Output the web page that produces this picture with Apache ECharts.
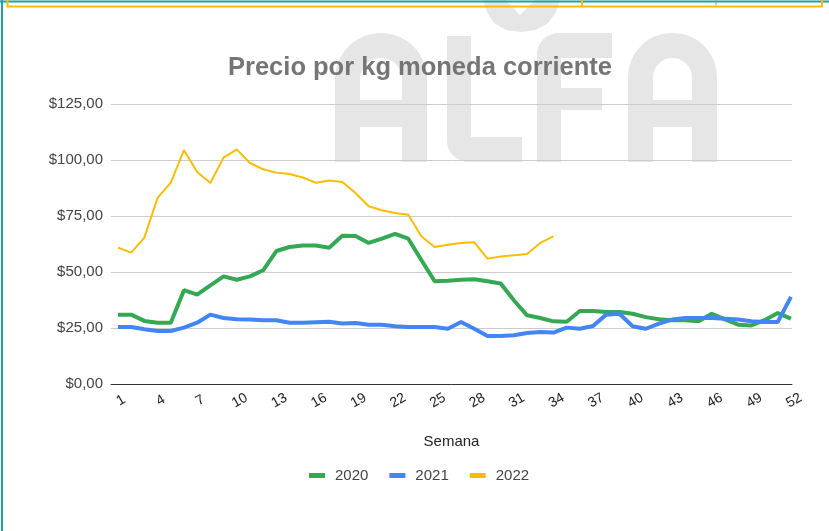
<!DOCTYPE html>
<html>
<head>
<meta charset="utf-8">
<script src="https://cdn.jsdelivr.net/npm/echarts@6/dist/echarts.min.js"></script>
<style>
  html, body { margin: 0; padding: 0; background: #fff; }
  #chart { width: 829px; height: 531px; }
</style>
</head>
<body>
<div id="chart"></div>
<script>
// ---- data ----
const weeks = [1,2,3,4,5,6,7,8,9,10,11,12,13,14,15,16,17,18,19,20,21,22,23,24,25,26,
               27,28,29,30,31,32,33,34,35,36,37,38,39,40,41,42,43,44,45,46,47,48,49,50,51,52];
const seriesNames = ['2020', '2021', '2022'];
const values2020 = [31.1,31.1,28.3,27.5,27.5,42.0,40.0,44.2,48.2,46.7,48.2,50.9,59.5,61.3,62.0,62.0,61.0,66.3,66.2,63.1,65.0,67.2,65.0,55.4,46.0,46.2,
                    46.7,46.9,46.0,45.0,37.5,30.8,29.6,28.1,27.9,32.7,32.7,32.3,32.3,31.5,30.0,29.0,28.6,28.6,28.1,31.5,29.0,26.6,26.3,28.6,31.8,29.3];
const values2021 = [25.6,25.6,24.6,23.8,23.8,25.3,27.5,31.1,29.6,29.0,28.9,28.6,28.6,27.5,27.5,27.7,27.9,27.1,27.4,26.6,26.6,25.9,25.6,25.6,25.6,24.8,
                    27.8,24.8,21.6,21.6,21.9,22.9,23.3,23.1,25.3,24.8,26.0,31.1,31.5,25.9,24.8,27.1,28.9,29.6,29.6,29.6,29.3,28.9,28.1,27.8,27.8,39.0];
const values2022 = [61.0,58.8,65.5,83.2,90.0,104.5,94.8,89.9,101.2,104.9,98.8,96.0,94.5,93.9,92.3,90.0,91.0,90.3,85.4,79.5,77.7,76.5,75.7,66.0,61.3,62.3,
                    63.1,63.4,56.1,57.1,57.6,58.2,63.1,66.0];
const xTickLabels = [1,4,7,10,13,16,19,22,25,28,31,34,37,40,43,46,49,52];
const yTickValues = [0,25,50,75,100,125];
const yTickLabels = ['$0,00','$25,00','$50,00','$75,00','$100,00','$125,00'];

const pairs = arr => arr.map((v, i) => [weeks[i], v]);

const chart = echarts.init(document.getElementById('chart'), null, { renderer: 'canvas' });

const wm = '#e6e6e6';
const option = {
  backgroundColor: '#ffffff',
  animation: false,
  title: {
    text: 'Precio por kg moneda corriente',
    left: 223, top: 50,
    textStyle: { fontFamily: 'Liberation Sans, Arial', fontSize: 25.5, fontWeight: 'bold', color: '#757575' }
  },
  legend: {
    data: seriesNames,
    left: 304, top: 463,
    icon: 'rect', itemWidth: 16, itemHeight: 5, itemGap: 21,
    textStyle: { fontFamily: 'Liberation Sans, Arial', fontSize: 15, color: '#444', padding: [0, 0, 0, 5] }
  },
  grid: { left: 111, right: 37, top: 104.3, bottom: 146.7, containLabel: false },
  xAxis: {
    type: 'value',
    min: 0.47, max: 52.08,
    name: 'Semana', nameLocation: 'middle', nameGap: 50,
    nameTextStyle: { fontFamily: 'Liberation Sans, Arial', fontSize: 15, color: '#222' },
    axisLine: { show: true, onZero: false, lineStyle: { color: '#333', width: 1 } },
    axisTick: { show: false },
    splitLine: { show: false },
    axisLabel: {
      customValues: xTickLabels,
      rotate: 30, align: 'center', verticalAlign: 'middle', margin: 18,
      padding: [0, 0, 0, 7],
      fontFamily: 'Liberation Sans, Arial', fontSize: 14, color: '#222'
    }
  },
  yAxis: {
    type: 'value', min: 0, max: 125, interval: 25,
    axisLine: { show: false, onZero: false },
    axisTick: { show: false },
    splitLine: { show: true, lineStyle: { color: '#cccccc', width: 1 } },
    axisLabel: {
      margin: 8,
      fontFamily: 'Liberation Sans, Arial', fontSize: 15, color: '#444',
      formatter: v => yTickLabels[yTickValues.indexOf(v)]
    }
  },
  series: [
    { name: seriesNames[0], type: 'line', data: pairs(values2020), showSymbol: false, symbol: 'none',
      color: '#34a853', lineStyle: { width: 4, color: '#34a853' }, z: 2 },
    { name: seriesNames[1], type: 'line', data: pairs(values2021), showSymbol: false, symbol: 'none',
      color: '#4285f4', lineStyle: { width: 4, color: '#4285f4' }, z: 3 },
    { name: seriesNames[2], type: 'line', data: pairs(values2022), showSymbol: false, symbol: 'none',
      color: '#fbbc04', lineStyle: { width: 2, color: '#fbbc04' }, z: 4 }
  ],
  graphic: {
    elements: [
      // watermark "ALFA"
      { type: 'rect', z: -100, shape: { x: 335, y: 33, width: 92, height: 129, r: [46, 46, 0, 0] }, style: { fill: wm } },
      { type: 'rect', z: -99, shape: { x: 360, y: 58, width: 42, height: 42, r: [21, 21, 0, 0] }, style: { fill: '#fff' } },
      { type: 'rect', z: -99, shape: { x: 360, y: 127, width: 42, height: 36 }, style: { fill: '#fff' } },
      { type: 'rect', z: -100, shape: { x: 447, y: 36, width: 24, height: 126, r: [0, 0, 0, 22] }, style: { fill: wm } },
      { type: 'rect', z: -100, shape: { x: 447, y: 137, width: 75, height: 25, r: [0, 0, 0, 22] }, style: { fill: wm } },
      { type: 'polygon', z: -100, shape: { points: [[483,0],[560,0],[556,12],[548,23],[536,30],[521,32],[506,30],[494,23],[487,12]] }, style: { fill: wm } },
      { type: 'polygon', z: -99, shape: { points: [[506,0],[535,0],[520,15]] }, style: { fill: '#fff' } },
      { type: 'rect', z: -100, shape: { x: 537, y: 33, width: 24, height: 129, r: [22, 0, 0, 0] }, style: { fill: wm } },
      { type: 'rect', z: -100, shape: { x: 537, y: 33, width: 75, height: 25, r: [22, 0, 0, 0] }, style: { fill: wm } },
      { type: 'rect', z: -100, shape: { x: 537, y: 88, width: 65, height: 22 }, style: { fill: wm } },
      { type: 'rect', z: -100, shape: { x: 628, y: 33, width: 89, height: 129, r: [44, 44, 0, 0] }, style: { fill: wm } },
      { type: 'rect', z: -99, shape: { x: 653, y: 58, width: 39, height: 42, r: [20, 20, 0, 0] }, style: { fill: '#fff' } },
      { type: 'rect', z: -99, shape: { x: 653, y: 127, width: 39, height: 36 }, style: { fill: '#fff' } },
      // frame
      { type: 'line', z: 50, shape: { x1: 0, y1: 1.5, x2: 829, y2: 1.5 }, style: { stroke: '#1fa39a', lineWidth: 2 } },
      { type: 'line', z: 50, shape: { x1: 2, y1: 0, x2: 2, y2: 531 }, style: { stroke: '#1fa39a', lineWidth: 2 } },
      { type: 'rect', z: 51, shape: { x: 7.5, y: -2, width: 814.5, height: 8.5 }, style: { fill: 'none', stroke: '#fbbc04', lineWidth: 2 } },
      { type: 'line', z: 51, shape: { x1: 582, y1: 0, x2: 582, y2: 6 }, style: { stroke: '#fbbc04', lineWidth: 2 } },
      { type: 'line', z: 51, shape: { x1: 716, y1: 0, x2: 716, y2: 5 }, style: { stroke: '#999', lineWidth: 1 } }
    ]
  }
};
chart.setOption(option);
</script>
</body>
</html>
